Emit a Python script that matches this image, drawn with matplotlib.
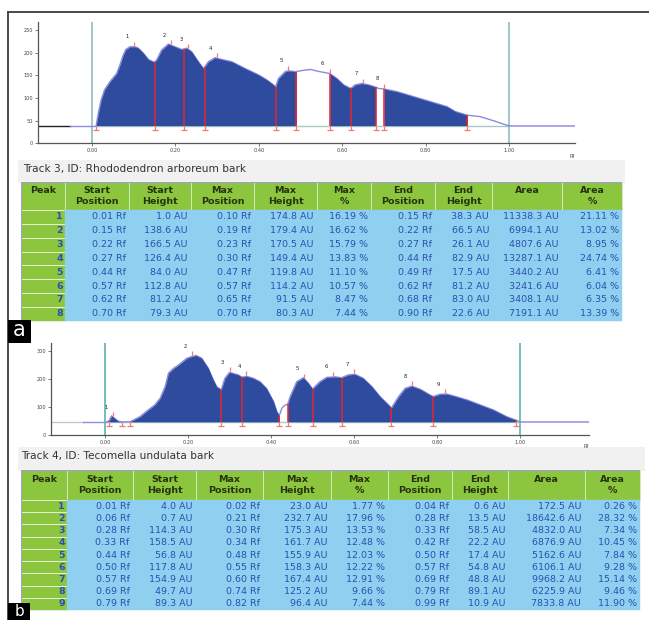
import numpy as np
import matplotlib
matplotlib.use("Agg")
import matplotlib.pyplot as plt
from matplotlib.patches import Rectangle

# ---------------- data: densitogram (a) Rhododendron arboreum bark ----------------
rf_a = [0.010, 0.015, 0.022, 0.030, 0.043, 0.059, 0.067, 0.075, 0.081, 0.091, 0.103, 0.111,
        0.123, 0.135, 0.149, 0.155, 0.167, 0.183, 0.199, 0.215, 0.227, 0.239, 0.255, 0.267,
        0.279, 0.295, 0.311, 0.335, 0.367, 0.399, 0.419, 0.435, 0.440, 0.447, 0.463, 0.471,
        0.489, 0.499, 0.523, 0.547, 0.570, 0.587, 0.603, 0.620, 0.631, 0.647, 0.663, 0.680,
        0.687, 0.700, 0.731, 0.771, 0.811, 0.851, 0.871, 0.900, 0.910, 0.930, 0.962, 0.994, 1.000]
au_a = [39, 66, 96, 118, 136, 154, 173, 195, 207, 213, 213, 210,
        199, 185, 179, 184, 206, 219, 213, 207, 210, 202, 180, 165,
        180, 189, 185, 180, 165, 151, 140, 129, 124, 143, 158, 160,
        158, 160, 163, 158, 154, 143, 129, 121, 129, 132, 129, 124,
        121, 120, 114, 103, 92, 81, 70, 62, 61, 59, 50, 40, 39]
base_a = 39

# table (a)
start_pos_a = [0.01, 0.15, 0.22, 0.27, 0.44, 0.57, 0.62, 0.70]
start_h_a = [1.0, 138.6, 166.5, 126.4, 84.0, 112.8, 81.2, 79.3]
max_pos_a = [0.10, 0.19, 0.23, 0.30, 0.47, 0.57, 0.65, 0.70]
max_h_a = [174.8, 179.4, 170.5, 149.4, 119.8, 114.2, 91.5, 80.3]
max_pct_a = [16.19, 16.62, 15.79, 13.83, 11.10, 10.57, 8.47, 7.44]
end_pos_a = [0.15, 0.22, 0.27, 0.44, 0.49, 0.62, 0.68, 0.90]
end_h_a = [38.3, 66.5, 26.1, 82.9, 17.5, 81.2, 83.0, 22.6]
area_a = [11338.3, 6994.1, 4807.6, 13287.1, 3440.2, 3241.6, 3408.1, 7191.1]
area_pct_a = [21.11, 13.02, 8.95, 24.74, 6.41, 6.04, 6.35, 13.39]

# ---------------- data: densitogram (b) Tecomella undulata bark ----------------
rf_b = [0.005, 0.010, 0.016, 0.022, 0.032, 0.040, 0.060, 0.084, 0.104, 0.120, 0.133, 0.145,
        0.153, 0.165, 0.177, 0.197, 0.212, 0.220, 0.233, 0.249, 0.261, 0.269, 0.280, 0.289,
        0.300, 0.321, 0.330, 0.341, 0.357, 0.373, 0.389, 0.406, 0.414, 0.420, 0.426, 0.434,
        0.440, 0.446, 0.462, 0.478, 0.490, 0.500, 0.518, 0.534, 0.554, 0.570, 0.586, 0.602,
        0.622, 0.643, 0.663, 0.683, 0.690, 0.707, 0.723, 0.739, 0.759, 0.779, 0.790, 0.807,
        0.823, 0.847, 0.872, 0.904, 0.936, 0.968, 0.990, 1.000]
au_b = [48, 52, 69, 62, 50, 48, 48, 66, 90, 108, 132, 173,
        221, 238, 250, 274, 282, 284, 274, 238, 197, 173, 162, 203,
        224, 215, 207, 210, 203, 191, 167, 120, 84, 70, 96, 108,
        110, 137, 191, 205, 185, 165, 191, 206, 208, 205, 215, 217,
        203, 173, 137, 108, 97, 137, 167, 175, 164, 147, 138, 146,
        147, 137, 126, 108, 90, 66, 54, 48]
base_b = 48

# table (b)
start_pos_b = [0.01, 0.06, 0.28, 0.33, 0.44, 0.50, 0.57, 0.69, 0.79]
start_h_b = [4.0, 0.7, 114.3, 158.5, 56.8, 117.8, 154.9, 49.7, 89.3]
max_pos_b = [0.02, 0.21, 0.30, 0.34, 0.48, 0.55, 0.60, 0.74, 0.82]
max_h_b = [23.0, 232.7, 175.3, 161.7, 155.9, 158.3, 167.4, 125.2, 96.4]
max_pct_b = [1.77, 17.96, 13.53, 12.48, 12.03, 12.22, 12.91, 9.66, 7.44]
end_pos_b = [0.04, 0.28, 0.33, 0.42, 0.50, 0.57, 0.69, 0.79, 0.99]
end_h_b = [0.6, 13.5, 58.5, 22.2, 17.4, 54.8, 48.8, 89.1, 10.9]
area_b = [172.5, 18642.6, 4832.0, 6876.9, 5162.6, 6106.1, 9968.2, 6225.9, 7833.8]
area_pct_b = [0.26, 28.32, 7.34, 10.45, 7.84, 9.28, 15.14, 9.46, 11.90]

headers = ["Peak\n ", "Start\nPosition", "Start\nHeight", "Max\nPosition", "Max\nHeight",
           "Max\n%", "End\nPosition", "End\nHeight", "Area\n ", "Area\n%"]
title_a = "Track 3, ID: Rhododendron arboreum bark"
title_b = "Track 4, ID: Tecomella undulata bark"
yticks_a = [0, 50, 100, 150, 200, 250]
yticks_b = [0, 100, 200, 300]
xticks = [0.0, 0.2, 0.4, 0.6, 0.8, 1.0]

# ---------------- styling ----------------
W, H = 649, 620
FILL = "#2f4b9e"
LAV = "#8a8ae0"
RED = "#e3262d"
PALE = "#f27c74"
GREEN = "#8cc63f"
BLUE = "#8fd0f0"
TXT_BLUE = "#2b50b0"
HDR_TXT = "#26330f"

fig = plt.figure(figsize=(W / 100, H / 100), dpi=100)
fig.patch.set_facecolor("white")


def rect(x0, y0, x1, y1):
    return [x0 / W, 1 - y1 / H, (x1 - x0) / W, (y1 - y0) / H]


bg = fig.add_axes([0, 0, 1, 1], zorder=0)
bg.set_xlim(0, W)
bg.set_ylim(H, 0)
bg.axis("off")
# frame
bg.plot([8, W], [12, 12], color="#3a3a3a", lw=1.3)
bg.plot([8, 8], [12, H], color="#3a3a3a", lw=1.3)
# title bands
bg.add_patch(Rectangle((18, 160), 607, 23, facecolor="#f1f1f1", edgecolor="none"))
bg.add_patch(Rectangle((18, 447), 627, 24, facecolor="#f1f1f1", edgecolor="none"))
bg.text(23, 169, title_a, fontsize=7.6, color="#333333", va="center", ha="left")
bg.text(21, 456, title_b, fontsize=7.6, color="#333333", va="center", ha="left")

# top overlay for panel letters
fg = fig.add_axes([0, 0, 1, 1], zorder=10)
fg.set_xlim(0, W)
fg.set_ylim(H, 0)
fg.axis("off")
fg.patch.set_alpha(0)
fg.add_patch(Rectangle((8, 320), 23, 23, facecolor="black", edgecolor="none"))
fg.text(19.5, 330, "a", fontsize=15, color="white", ha="center", va="center")
fg.add_patch(Rectangle((8, 603), 22, 17, facecolor="black", edgecolor="none"))
fg.text(19, 612, "b", fontsize=11, color="white", ha="center", va="center")


def merge(starts, ends):
    segs = sorted(zip(starts, ends))
    out = [list(segs[0])]
    for s, e in segs[1:]:
        if s <= out[-1][1] + 1e-9:
            out[-1][1] = max(out[-1][1], e)
        else:
            out.append([s, e])
    return out


def draw_chart(px, xlim, ylim, rf, au, base, starts, ends, maxpos, yticks, pre_color, vcolor):
    ax = fig.add_axes(rect(*px), zorder=2)
    ax.patch.set_alpha(0)
    ax.set_xlim(*xlim)
    ax.set_ylim(*ylim)
    height_px = px[3] - px[1]
    upp = (ylim[1] - ylim[0]) / height_px  # data units per pixel
    rf = np.asarray(rf, float)
    au = np.asarray(au, float)
    for s in ["top", "right"]:
        ax.spines[s].set_visible(False)
    for s in ["left", "bottom"]:
        ax.spines[s].set_color("#555555")
        ax.spines[s].set_linewidth(0.9)
    ax.set_yticks(yticks)
    ax.set_yticklabels([str(v) for v in yticks])
    ax.set_xticks(xticks)
    ax.set_xticklabels(["%.2f" % v for v in xticks])
    ax.tick_params(labelsize=3.6, length=2, width=0.5, pad=1.5, colors="#444444")
    ax.text(1.0, -0.09, "Rf", transform=ax.transAxes, fontsize=3.6, ha="right", va="top", color="#444444")
    # vertical front/start lines
    ax.axvline(0, color=vcolor, lw=1.2, zorder=1)
    ax.axvline(1, color=vcolor, lw=1.2, zorder=1)
    # baseline pieces
    ax.plot([xlim[0], -0.053], [base, base], color=pre_color, lw=1, zorder=1)
    ax.plot([-0.053, rf[0]], [base, base], color=LAV, lw=1, zorder=1)
    ax.plot([rf[0], 1.0], [base, base], color="#a9c9c9", lw=1, zorder=1)
    ax.plot([1.0, xlim[1]], [base, base], color=LAV, lw=1.3, alpha=0.8, zorder=1)
    # profile line
    ax.plot(rf, au, color=LAV, lw=1, zorder=2)
    # filled peak areas
    for s, e in merge(starts, ends):
        inner = rf[(rf > s) & (rf < e)]
        xs = np.concatenate([[s], inner, [e]])
        ys = np.interp(xs, rf, au)
        ax.fill_between(xs, base, ys, color=FILL, lw=0, zorder=3)
    # boundaries
    bounds = sorted(set(list(starts) + list(ends)))
    for b in bounds:
        top = np.interp(b, rf, au)
        ax.vlines(b, base, top, color=RED, lw=1.1, zorder=4)
        ax.vlines(b, base - 4 * upp, base, color=PALE, lw=0.9, zorder=4)
        ax.plot([b], [base - 4 * upp], marker="_", ms=4, mew=0.9, color=PALE, zorder=4)
    # peak maxima ticks + numbers
    for i, m in enumerate(maxpos):
        h = np.interp(m, rf, au)
        ax.vlines(m, h + 1 * upp, h + 5 * upp, color=PALE, lw=0.9, zorder=4)
        ax.annotate(str(i + 1), (m, h), xytext=(-7, 10), textcoords="offset pixels",
                    fontsize=3.8, ha="center", va="center", color="#222222")
    return ax


draw_chart((38, 22, 575, 143.3), (-0.1295, 1.158), (0, 267.7), rf_a, au_a, base_a,
           start_pos_a, end_pos_a, max_pos_a, yticks_a, "#222222", "#8fbcbc")
draw_chart((51, 343, 589, 435.3), (-0.130, 1.166), (0, 328.5), rf_b, au_b, base_b,
           start_pos_b, end_pos_b, max_pos_b, yticks_b, "#c8c8c8", "#5fb0b0")


def rows_from(sp, sh, mp, mh, mpc, ep, eh, ar, apc):
    rows = []
    for i in range(len(sp)):
        rows.append([str(i + 1), "%.2f Rf" % sp[i], "%.1f AU" % sh[i], "%.2f Rf" % mp[i],
                     "%.1f AU" % mh[i], "%.2f %%" % mpc[i], "%.2f Rf" % ep[i],
                     "%.1f AU" % eh[i], "%.1f AU" % ar[i], "%.2f %%" % apc[i]])
    return rows


def draw_table(edges, y0, y_hdr, y1, rows):
    ax = fig.add_axes(rect(edges[0], y0, edges[-1], y1), zorder=3)
    ax.axis("off")
    widths = list(np.diff(edges) / (edges[-1] - edges[0]))
    tbl = ax.table(cellText=[headers] + rows, colWidths=widths, bbox=[0, 0, 1, 1], cellLoc="right")
    tbl.auto_set_font_size(False)
    tbl.set_fontsize(6.8)
    n = len(rows)
    hh = (y_hdr - y0)
    rh = (y1 - y_hdr) / n
    for (r, c), cell in tbl.get_celld().items():
        cell.PAD = 0.05
        t = cell.get_text()
        if r == 0:
            cell.set_height(hh)
            cell.set_facecolor(GREEN)
            cell.set_edgecolor("#d6ebb8")
            cell.set_linewidth(0.7)
            t.set_horizontalalignment("center")
            t.set_color(HDR_TXT)
            t.set_fontweight("bold")
            t.set_linespacing(1.15)
        else:
            cell.set_height(rh)
            if c == 0:
                cell.set_facecolor(GREEN)
                cell.set_edgecolor("#e6f2d6")
                cell.set_linewidth(0.7)
                t.set_fontweight("bold")
            else:
                cell.set_facecolor(BLUE)
                cell.set_edgecolor(BLUE)
                cell.set_linewidth(0.3)
            t.set_color(TXT_BLUE)
    ax.add_patch(Rectangle((0, 0), 1, 1, transform=ax.transAxes, fill=False,
                           edgecolor="#a39cd8", lw=0.8, zorder=5))
    return tbl


edges_a = [21, 65, 129, 191, 254, 317, 371, 435, 492, 562, 622]
edges_b = [21, 67, 133, 196, 263, 331, 388, 452, 508, 585, 640]
draw_table(edges_a, 182, 210, 320.7,
           rows_from(start_pos_a, start_h_a, max_pos_a, max_h_a, max_pct_a,
                     end_pos_a, end_h_a, area_a, area_pct_a))
draw_table(edges_b, 470, 500, 610,
           rows_from(start_pos_b, start_h_b, max_pos_b, max_h_b, max_pct_b,
                     end_pos_b, end_h_b, area_b, area_pct_b))

fig.savefig("out.png", dpi=100, facecolor="white")
